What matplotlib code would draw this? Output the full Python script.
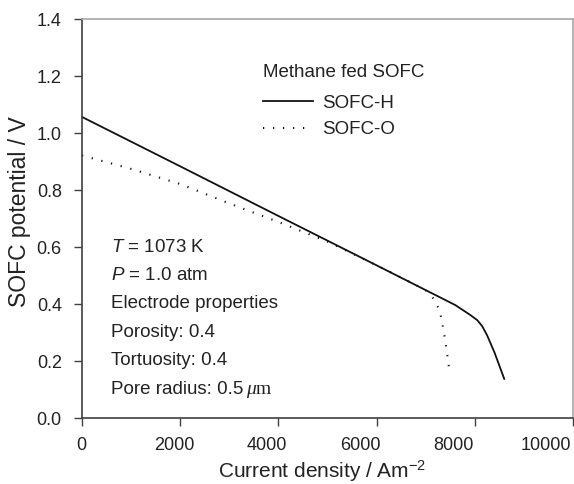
import matplotlib
matplotlib.use("Agg")
import matplotlib.pyplot as plt
import matplotlib.transforms as mtransforms
from matplotlib.lines import Line2D

plt.rcParams['font.family'] = ['Liberation Sans', 'DejaVu Sans']
plt.rcParams['mathtext.fontset'] = 'custom'
plt.rcParams['mathtext.rm'] = 'Liberation Sans'
plt.rcParams['mathtext.it'] = 'Liberation Sans:italic'

# Data
h_current = [0, 2000, 4000, 6000, 7600, 7900, 8050, 8150, 8250, 8400, 8600]
h_potential = [1.055, 0.882, 0.708, 0.535, 0.396, 0.362, 0.343, 0.322, 0.29, 0.23, 0.137]
o_current = [0, 1000, 2000, 3000, 4000, 5000, 5500, 6000, 6500, 7000, 7150, 7260, 7320, 7390, 7440, 7480]
o_potential = [0.92, 0.873, 0.82, 0.752, 0.687, 0.618, 0.577, 0.535, 0.492, 0.448, 0.42, 0.385, 0.35, 0.28, 0.22, 0.17]
series_labels = ['SOFC-H', 'SOFC-O']
legend_title = 'Methane fed SOFC'
x_ticks = [0, 2000, 4000, 6000, 8000, 10000]
x_ticklabels = ['0', '2000', '4000', '6000', '8000', '10000']
y_ticks = [0.0, 0.2, 0.4, 0.6, 0.8, 1.0, 1.2, 1.4]
y_ticklabels = ['0.0', '0.2', '0.4', '0.6', '0.8', '1.0', '1.2', '1.4']
notes = [r'$T$ = 1073 K', r'$P$ = 1.0 atm', 'Electrode properties',
         'Porosity: 0.4', 'Tortuosity: 0.4', 'Pore radius: 0.5']
x_label = r'Current density / Am$^{\mathrm{-2}}$'
y_label = 'SOFC potential / V'

W, H = 574, 485
fig = plt.figure(figsize=(W / 100, H / 100), dpi=100)
L, R, T, B = 82, 573, 19.5, 419
ax = fig.add_axes([L / W, (H - B) / H, (R - L) / W, (B - T) / H])

tc = '#222222'
lc = '#111111'
dot_style = (0, (0.6, 4.2))
ax.plot(h_current, h_potential, color=lc, lw=1.3, label=series_labels[0])
ax.plot(o_current, o_potential, color=lc, lw=1.5, linestyle=dot_style,
        label=series_labels[1])

ax.set_xlim(0, 10000)
ax.set_ylim(0, 1.4)
ax.set_xticks(x_ticks)
ax.set_yticks(y_ticks)
ax.set_yticklabels(y_ticklabels)
ax.tick_params(direction='out', length=6, width=1.0, colors='#404040',
               labelsize=13, labelcolor=tc, pad=8.5)
ax.tick_params(axis='x', labelbottom=False)
for s in ['left', 'bottom']:
    ax.spines[s].set_color('#404040')
    ax.spines[s].set_linewidth(1.2)
for s in ['top', 'right']:
    ax.spines[s].set_color('#a8a8a8')
    ax.spines[s].set_linewidth(1.2)

# x tick labels, drawn slightly compressed as in the original figure
xtrans = mtransforms.blended_transform_factory(ax.transData, ax.transAxes)
for v, s in zip(x_ticks, x_ticklabels):
    off = mtransforms.ScaledTranslation(-0.26 * v / 10000 - 0.01, -0.27, fig.dpi_scale_trans)
    ax.text(v, 0, s, transform=xtrans + off, ha='center', va='center',
            fontsize=13, color=tc)

fig.text((L + R) / 2 / W - 0.01, 1 - 471 / H, x_label, ha='center', va='center',
         fontsize=15, color=tc)
fig.text(19.5 / W, 1 - 212 / H, y_label, ha='center', va='center', rotation=90,
         fontsize=16.5, color=tc)

# legend (drawn in axes fraction)
def fx(px):
    return (px - L) / (R - L)

def fy(py):
    return (B - py) / (B - T)

fs = 13.5
ax.text(fx(263), fy(72), legend_title, transform=ax.transAxes, fontsize=fs,
        color=tc, ha='left', va='center')
ax.add_line(Line2D([fx(263), fx(313)], [fy(102), fy(102)], transform=ax.transAxes,
                   color=lc, lw=1.3))
ax.text(fx(322), fy(103), series_labels[0], transform=ax.transAxes, fontsize=fs,
        color=tc, ha='left', va='center')
ax.add_line(Line2D([fx(263), fx(313)], [fy(129), fy(129)], transform=ax.transAxes,
                   color=lc, lw=1.5, linestyle=dot_style))
ax.text(fx(322), fy(130), series_labels[1], transform=ax.transAxes, fontsize=fs,
        color=tc, ha='left', va='center')

txt = None
for i, s in enumerate(notes):
    txt = ax.text(fx(111), fy(247 + i * 28.4), s, transform=ax.transAxes, fontsize=fs,
                  color=tc, va='center', ha='left')
mu = ax.annotate('\u03bc', xy=(1, 0), xycoords=txt, xytext=(2, 0), textcoords='offset points',
                 fontsize=14, family='Liberation Serif', style='italic', color=tc,
                 va='bottom', ha='left')
ax.annotate('m', xy=(1, 0), xycoords=mu, xytext=(0, 0), textcoords='offset points',
            fontsize=14, family='Liberation Serif', color=tc, va='bottom', ha='left')

fig.savefig('out.png', dpi=100)
